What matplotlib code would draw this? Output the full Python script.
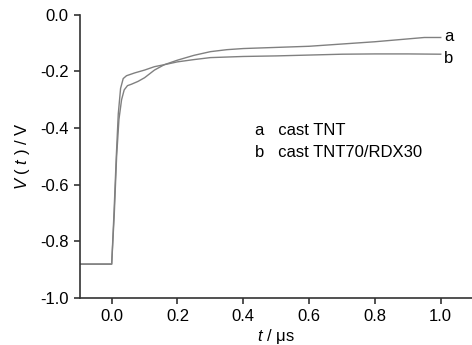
import matplotlib
matplotlib.use('Agg')
import matplotlib.pyplot as plt

plt.rcParams['font.family'] = ['Liberation Sans', 'DejaVu Sans']
plt.rcParams['mathtext.fontset'] = 'custom'
plt.rcParams['mathtext.it'] = 'Liberation Sans:italic'
plt.rcParams['mathtext.rm'] = 'Liberation Sans'

# curve a: cast TNT
t_a = [-0.1, 0.0, 0.008, 0.015, 0.022, 0.03, 0.038, 0.048, 0.06, 0.08, 0.10, 0.13,
       0.16, 0.2, 0.25, 0.3, 0.35, 0.4, 0.45, 0.5, 0.6, 0.7, 0.8, 0.9, 0.95, 1.0]
v_a = [-0.88, -0.88, -0.70, -0.50, -0.37, -0.30, -0.265, -0.25, -0.245, -0.235, -0.222, -0.195,
       -0.176, -0.16, -0.143, -0.13, -0.123, -0.119, -0.117, -0.115, -0.111, -0.103, -0.095, -0.085, -0.08, -0.08]

# curve b: cast TNT70/RDX30
t_b = [-0.1, 0.0, 0.007, 0.014, 0.02, 0.027, 0.035, 0.045, 0.07, 0.10, 0.13, 0.16,
       0.2, 0.25, 0.3, 0.4, 0.5, 0.6, 0.7, 0.8, 0.9, 1.0]
v_b = [-0.88, -0.88, -0.70, -0.50, -0.35, -0.26, -0.225, -0.215, -0.205, -0.195, -0.183, -0.176,
       -0.166, -0.158, -0.151, -0.147, -0.145, -0.142, -0.139, -0.138, -0.138, -0.139]

x_ticks = [0.0, 0.2, 0.4, 0.6, 0.8, 1.0]
y_ticks = [0.0, -0.2, -0.4, -0.6, -0.8, -1.0]

fig = plt.figure(figsize=(4.72, 3.45), dpi=100)
ax = fig.add_axes([0.169, 0.136, 0.831, 0.821])

ax.plot(t_a, v_a, color='0.5', lw=1.0)
ax.plot(t_b, v_b, color='0.5', lw=1.0)

ax.set_xlim(-0.097, 1.095)
ax.set_ylim(-1.0, 0.0)
ax.set_xticks(x_ticks)
ax.set_xticklabels(['%.1f' % v for v in x_ticks])
ax.set_yticks(y_ticks)
ax.set_yticklabels(['%.1f' % v for v in y_ticks])

for s in ['top', 'right']:
    ax.spines[s].set_visible(False)
for s in ['left', 'bottom']:
    ax.spines[s].set_linewidth(1.2)
    ax.spines[s].set_color('0.2')
ax.tick_params(direction='out', length=4, width=1.2, color='0.2', labelsize=12, pad=4)

ax.set_xlabel(r'$t$ / μs', fontsize=12, labelpad=2)
ax.set_ylabel(r'$V$ ( $t$ ) / V', fontsize=12, labelpad=6)

ax.text(1.01, -0.078, 'a', fontsize=12, va='center')
ax.text(1.01, -0.155, 'b', fontsize=12, va='center')
ax.text(0.435, -0.41, 'a   cast TNT', fontsize=12, va='center')
ax.text(0.435, -0.485, 'b   cast TNT70/RDX30', fontsize=12, va='center')

fig.savefig('out.png', dpi=100)
